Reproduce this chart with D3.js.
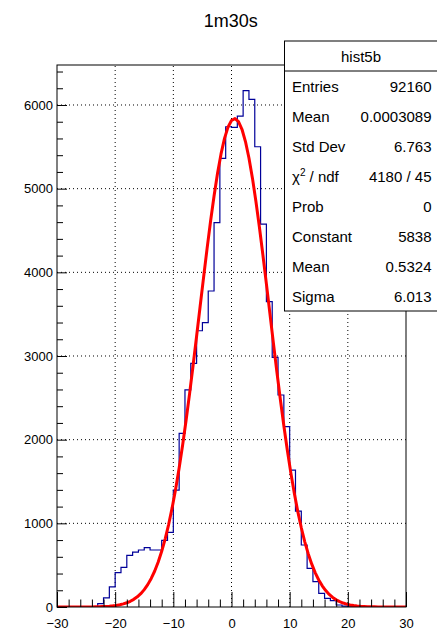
<!DOCTYPE html>
<html>
<head>
<meta charset="utf-8">
<script src="https://cdn.jsdelivr.net/npm/d3@7"></script>
<style>
  body { margin: 0; background: #fff; }
  svg { display: block; font-family: "Liberation Sans", Arial, Helvetica, sans-serif; }
  .grid line { stroke: #000; stroke-width: 1; stroke-dasharray: 1,3; }
  .axis text { font-size: 13px; fill: #000; }
  .axis line { stroke: #000; }
  .axis .domain { display: none; }
</style>
</head>
<body>
<div id="chart"></div>
<script>
// histogram axis definition
const xMin = -30, xMax = 30, binWidth = 1;
// bin contents, one per unit bin from -30 to 30
const binCounts = [
  0, 0, 0, 0, 0, 0, 3, 40, 110, 240,
  410, 474, 618, 657, 681, 709, 681, 681, 797, 893,
  1398, 2076, 2594, 2912, 3302, 3398, 3777, 4593, 5362, 5740,
  5733, 5868, 6171, 6068, 5501, 4577, 3649, 2984, 2534, 2155,
  1637, 1147, 741, 462, 303, 163, 104, 76, 24, 10,
  2, 0, 0, 0, 0, 0, 0, 0, 0, 0
];
// gaussian fit parameters (from the stats box)
const fitConstant = 5838, fitMean = 0.5324, fitSigma = 6.013, fitNpx = 100;

const xMajorTicks = [-30, -20, -10, 0, 10, 20, 30];
const yMajorTicks = [0, 1000, 2000, 3000, 4000, 5000, 6000];
const yMax = 6478;

const statsTitle = "hist5b";
const statsLabels = ["Entries", "Mean", "Std Dev", "chi2", "Prob", "Constant", "Mean", "Sigma"];
const statsValues = ["92160", "0.0003089", "6.763", "4180 / 45", "0", "5838", "0.5324", "6.013"];
const title = "1m30s";

const width = 437, height = 633;
const margin = { left: 57, right: 31, top: 65, bottom: 26 };

const svg = d3.select("#chart").append("svg").attr("width", width).attr("height", height);
svg.append("rect").attr("width", width).attr("height", height).attr("fill", "#fff");

const x = d3.scaleLinear().domain([xMin, xMax]).range([margin.left, width - margin.right]);
const y = d3.scaleLinear().domain([0, yMax]).range([height - margin.bottom, margin.top]);

svg.append("defs").append("clipPath").attr("id", "frame-clip")
  .append("rect").attr("x", x(xMin)).attr("y", y(yMax))
  .attr("width", x(xMax) - x(xMin)).attr("height", y(0) - y(yMax));

// grid
const grid = svg.append("g").attr("class", "grid");
grid.selectAll(".gx").data(xMajorTicks.slice(1, -1)).join("line")
  .attr("x1", d => x(d)).attr("x2", d => x(d)).attr("y1", y(0)).attr("y2", y(yMax));
grid.selectAll(".gy").data(yMajorTicks.slice(1)).join("line")
  .attr("x1", x(xMin)).attr("x2", x(xMax)).attr("y1", d => y(d)).attr("y2", d => y(d));

// histogram steps
const plot = svg.append("g").attr("clip-path", "url(#frame-clip)");
const steps = [];
binCounts.forEach((c, i) => {
  const lo = xMin + i * binWidth;
  steps.push([lo, c], [lo + binWidth, c]);
});
plot.append("path")
  .attr("d", d3.line().x(d => x(d[0])).y(d => y(d[1]))(steps))
  .attr("fill", "none").attr("stroke", "#000099").attr("stroke-width", 1.2);

// fit function, sampled like ROOT's TF1 (Npx points)
const fitPts = d3.range(fitNpx + 1).map(k => {
  const xv = xMin + (xMax - xMin) * k / fitNpx;
  return [xv, fitConstant * Math.exp(-0.5 * ((xv - fitMean) / fitSigma) ** 2)];
});
plot.append("path")
  .attr("d", d3.line().x(d => x(d[0])).y(d => y(d[1]))(fitPts))
  .attr("fill", "none").attr("stroke", "#ff0000").attr("stroke-width", 3)
  .attr("stroke-linejoin", "round");

// frame
svg.append("rect")
  .attr("x", x(xMin)).attr("y", y(yMax))
  .attr("width", x(xMax) - x(xMin)).attr("height", y(0) - y(yMax))
  .attr("fill", "none").attr("stroke", "#000").attr("stroke-width", 1);

// axes
const fmt = d3.format("d");
svg.append("g").attr("class", "axis").attr("transform", `translate(0,${y(0)})`)
  .call(d3.axisBottom(x).tickValues(xMajorTicks).tickSizeInner(-15).tickSizeOuter(0).tickPadding(12).tickFormat(fmt));
svg.append("g").attr("class", "axis").attr("transform", `translate(0,${y(0)})`)
  .call(d3.axisBottom(x).tickValues(d3.range(xMin, xMax + 0.1, 2).filter(v => v % 10 !== 0))
    .tickSizeInner(-7.5).tickSizeOuter(0).tickFormat(""));
svg.append("g").attr("class", "axis").attr("transform", `translate(${x(xMin)},0)`)
  .call(d3.axisLeft(y).tickValues(yMajorTicks).tickSizeInner(-10).tickSizeOuter(0).tickPadding(4).tickFormat(fmt));
svg.append("g").attr("class", "axis").attr("transform", `translate(${x(xMin)},0)`)
  .call(d3.axisLeft(y).tickValues(d3.range(0, yMax, 200).filter(v => v % 1000 !== 0))
    .tickSizeInner(-6).tickSizeOuter(0).tickFormat(""));

// title
svg.append("text").attr("x", 230.7).attr("y", 26.7).attr("text-anchor", "middle")
  .attr("font-size", 18).text(title);

// stats box
const box = { x: 284.5, y: 41, w: 153, row: 30 };
const sb = svg.append("g");
sb.append("rect").attr("x", box.x).attr("y", box.y).attr("width", box.w)
  .attr("height", box.row * (statsLabels.length + 1))
  .attr("fill", "#fff").attr("stroke", "#000").attr("stroke-width", 1);
sb.append("line").attr("x1", box.x).attr("x2", box.x + box.w)
  .attr("y1", box.y + box.row).attr("y2", box.y + box.row).attr("stroke", "#000");
sb.append("text").attr("x", box.x + box.w / 2).attr("y", box.y + box.row / 2 + 5.5)
  .attr("text-anchor", "middle").attr("font-size", 15).text(statsTitle);
statsLabels.forEach((lab, i) => {
  const ty = box.y + box.row * (i + 1.5) + 5.5;
  const t = sb.append("text").attr("x", 292).attr("y", ty).attr("font-size", 15);
  if (lab === "chi2") {
    t.append("tspan").text("\u03C7");
    t.append("tspan").attr("font-size", 10).attr("dy", -6).text("2");
    t.append("tspan").attr("dy", 6).text(" / ndf");
  } else {
    t.text(lab);
  }
  sb.append("text").attr("x", 431.5).attr("y", ty).attr("text-anchor", "end")
    .attr("font-size", 15).text(statsValues[i]);
});
</script>
</body>
</html>
